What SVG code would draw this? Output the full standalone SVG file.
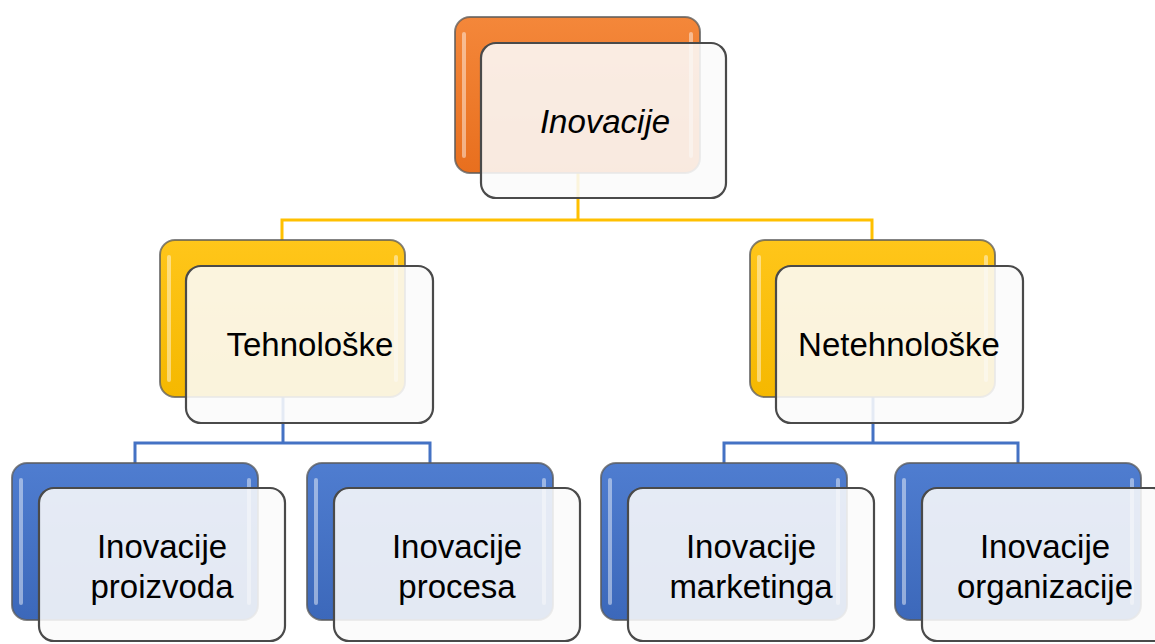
<svg xmlns="http://www.w3.org/2000/svg" width="1155" height="644" viewBox="0 0 1155 644">
<defs>
<linearGradient id="gO" x1="0" y1="0" x2="0" y2="1"><stop offset="0" stop-color="#F4873A"/><stop offset="1" stop-color="#E86F1E"/></linearGradient>
<linearGradient id="gY" x1="0" y1="0" x2="0" y2="1"><stop offset="0" stop-color="#FFC61A"/><stop offset="1" stop-color="#F5B800"/></linearGradient>
<linearGradient id="gB" x1="0" y1="0" x2="0" y2="1"><stop offset="0" stop-color="#4F7DD0"/><stop offset="1" stop-color="#3C68BA"/></linearGradient>
</defs>
<style>
.back{stroke:#5a5a5a;stroke-opacity:0.75;stroke-width:2}
.o{fill:url(#gO)}.y{fill:url(#gY)}.b{fill:url(#gB)}
.hl{fill:#ffffff;fill-opacity:0.45}
.front{fill:#fbfbfb;fill-opacity:0.88;stroke:#4a4a4a;stroke-width:2.2}
.t{font-family:"Liberation Sans",Arial,sans-serif;font-size:33px;fill:#000;text-anchor:middle}
.cy{stroke:#FFC000;stroke-width:3;fill:none}
.cb{stroke:#4472C4;stroke-width:3;fill:none}
</style>
<g id="connectors">
<path class="cy" d="M578 173 V220 M282 244 V220 H872 V244"/>
<path class="cb" d="M283 397 V443 M135 466 V443 H430 V466"/>
<path class="cb" d="M873 397 V443 M724 466 V443 H1018 V466"/>
</g>
<g id="n-inovacije">
<rect class="back o" x="455" y="17" width="245" height="156" rx="15"/>
<rect class="hl" x="462" y="32" width="4" height="126" rx="2"/>
<rect class="hl" x="689" y="32" width="4" height="126" rx="2"/>
<rect class="front" x="481" y="43" width="245" height="155" rx="15"/>
<text class="t" x="605" y="133" font-style="italic">Inovacije</text>
</g>
<g id="n-tehnoloske">
<rect class="back y" x="160" y="240" width="245" height="157" rx="15"/>
<rect class="hl" x="167" y="255" width="4" height="127" rx="2"/>
<rect class="hl" x="394" y="255" width="4" height="127" rx="2"/>
<rect class="front" x="186" y="266" width="247" height="157" rx="15"/>
<text class="t" x="310" y="356">Tehnološke</text>
</g>
<g id="n-netehnoloske">
<rect class="back y" x="750" y="240" width="245" height="157" rx="15"/>
<rect class="hl" x="757" y="255" width="4" height="127" rx="2"/>
<rect class="hl" x="984" y="255" width="4" height="127" rx="2"/>
<rect class="front" x="776" y="266" width="247" height="157" rx="15"/>
<text class="t" x="899" y="356">Netehnološke</text>
</g>
<g id="n-proizvoda">
<rect class="back b" x="12" y="463" width="246" height="157" rx="15"/>
<rect class="hl" x="19" y="478" width="4" height="127" rx="2"/>
<rect class="hl" x="247" y="478" width="4" height="127" rx="2"/>
<rect class="front" x="39" y="488" width="246" height="153" rx="15"/>
<text class="t" x="162" y="558">Inovacije</text>
<text class="t" x="162" y="598">proizvoda</text>
</g>
<g id="n-procesa">
<rect class="back b" x="307" y="463" width="246" height="157" rx="15"/>
<rect class="hl" x="314" y="478" width="4" height="127" rx="2"/>
<rect class="hl" x="542" y="478" width="4" height="127" rx="2"/>
<rect class="front" x="334" y="488" width="246" height="153" rx="15"/>
<text class="t" x="457" y="558">Inovacije</text>
<text class="t" x="457" y="598">procesa</text>
</g>
<g id="n-marketinga">
<rect class="back b" x="601" y="463" width="246" height="157" rx="15"/>
<rect class="hl" x="608" y="478" width="4" height="127" rx="2"/>
<rect class="hl" x="836" y="478" width="4" height="127" rx="2"/>
<rect class="front" x="628" y="488" width="246" height="153" rx="15"/>
<text class="t" x="751" y="558">Inovacije</text>
<text class="t" x="751" y="598">marketinga</text>
</g>
<g id="n-organizacije">
<rect class="back b" x="895" y="463" width="246" height="157" rx="15"/>
<rect class="hl" x="902" y="478" width="4" height="127" rx="2"/>
<rect class="hl" x="1130" y="478" width="4" height="127" rx="2"/>
<rect class="front" x="922" y="488" width="246" height="153" rx="15"/>
<text class="t" x="1045" y="558">Inovacije</text>
<text class="t" x="1045" y="598">organizacije</text>
</g>
</svg>
